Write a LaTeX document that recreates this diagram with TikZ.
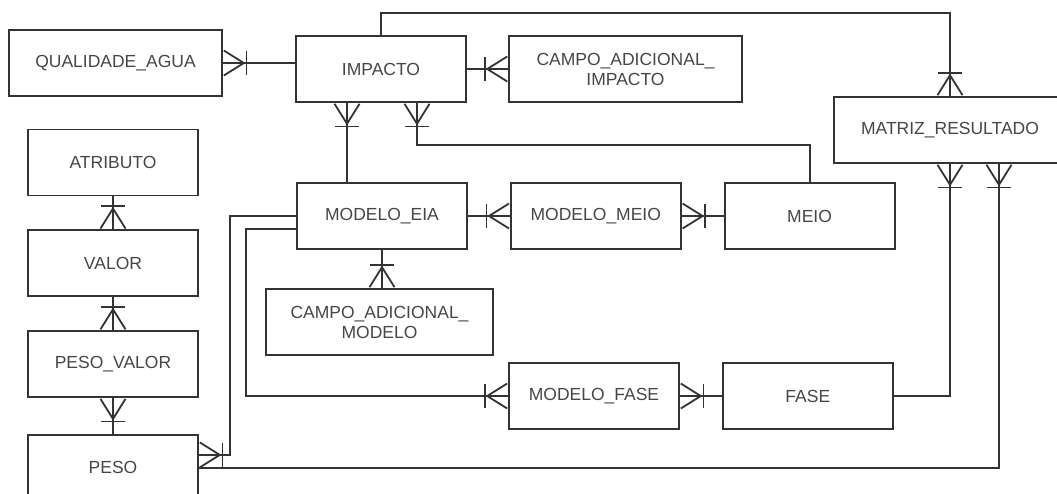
\documentclass[tikz,border=0pt]{standalone}
\usepackage{fontspec}
\setmainfont{Liberation Sans}
\usetikzlibrary{arrows.meta, positioning}
\definecolor{lineGray}{RGB}{51,51,51}
\definecolor{textGray}{RGB}{70,70,70}
\tikzset{
    entity/.style={rectangle, draw=lineGray, line width=1.8pt, minimum width=170pt, minimum height=66pt, align=center, text=textGray, font=\fontsize{17.5}{20}\selectfont},
    link/.style={draw=lineGray, line width=1.8pt},
    many/.style={link, postaction={draw=lineGray, -{Bar[width=24pt] Straight Barb[reversed, length=20pt, width=25pt]}}},
}

\begin{document}
\begin{tikzpicture}[x=1pt, y=-1pt]
\useasboundingbox (0,0) rectangle (1057,493);
\clip (0,0) rectangle (1057,493);

% left column
\node[entity] (atributo) at (113,162.5) {ATRIBUTO};
\node[entity, below=33pt of atributo] (valor) {VALOR};
\node[entity, below=33pt of valor] (pesovalor) {PESO\_VALOR};
\node[entity, below=36pt of pesovalor] (peso) {PESO};

% top row
\node[entity, minimum width=213pt] (qualidade) at (115.5,63) {QUALIDADE\_AGUA};
\node[entity] (impacto) at (381,69) {IMPACTO};
\node[entity, minimum width=233pt] (campoimp) at (625.5,69) {CAMPO\_ADICIONAL\_\\IMPACTO};
\node[entity, minimum width=232pt] (matriz) at (950,130) {MATRIZ\_RESULTADO};

% middle rows
\node[entity] (modeloeia) at (382,216) {MODELO\_EIA};
\node[entity, right=42pt of modeloeia] (modelomeio) {MODELO\_MEIO};
\node[entity, right=42pt of modelomeio] (meio) {MEIO};
\node[entity, minimum width=227pt] (campomod) at (379.5,322) {CAMPO\_ADICIONAL\_\\MODELO};
\node[entity] (modelofase) at (594,396) {MODELO\_FASE};
\node[entity, right=42pt of modelofase] (fase) {FASE};

% relationships
\draw[many] (impacto.west |- qualidade.east) -- (qualidade.east);
\draw[many] (impacto.east) -- (campoimp.west);
\draw[many] (impacto.north) -- ([yshift=22pt]impacto.north) -| (matriz.north);
\draw[many] ([xshift=-35pt]modeloeia.north) -- ([xshift=-35pt]modeloeia.north |- impacto.south);
\draw[many] (meio.north) -- ++(0,-37) -| ([xshift=36pt]impacto.south);
\draw[many] (modeloeia.east) -- (modelomeio.west);
\draw[many] (meio.west) -- (modelomeio.east);
\draw[many] (modeloeia.south) -- (modeloeia.south |- campomod.north);
\draw[many] ([yshift=-13pt]modeloeia.west) -- ++(-50,0) |- (modelofase.west);
\draw[many] (modeloeia.west) -- ++(-66,0) |- ([yshift=13pt]peso.east);
\draw[many] (peso.east) -| ([xshift=49pt]matriz.south);
\draw[many] (fase.east) -| (matriz.south);
\draw[many] (fase.west) -- (modelofase.east);
\draw[many] (atributo.south) -- (valor.north);
\draw[many] (valor.south) -- (pesovalor.north);
\draw[many] (peso.north) -- (pesovalor.south);

\end{tikzpicture}
\end{document}
